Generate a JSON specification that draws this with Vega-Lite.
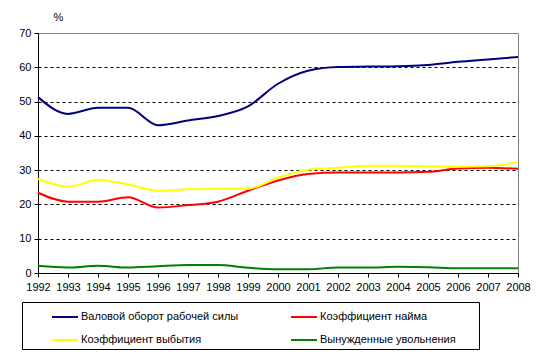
{
  "$schema": "https://vega.github.io/schema/vega-lite/v6.json",
  "width": 480,
  "height": 240,
  "autosize": "none",
  "padding": {"left": 38, "top": 33, "right": 19, "bottom": 86},
  "background": "white",
  "config": {
    "font": "Liberation Sans",
    "view": {"stroke": "#808080", "strokeWidth": 1}
  },
  "data": {
    "values": [
      {"year": 1992, "s": "Валовой оборот рабочей силы", "v": 51.3},
      {"year": 1993, "s": "Валовой оборот рабочей силы", "v": 46.4},
      {"year": 1994, "s": "Валовой оборот рабочей силы", "v": 48.2},
      {"year": 1995, "s": "Валовой оборот рабочей силы", "v": 48.2},
      {"year": 1996, "s": "Валовой оборот рабочей силы", "v": 43.1},
      {"year": 1997, "s": "Валовой оборот рабочей силы", "v": 44.5},
      {"year": 1998, "s": "Валовой оборот рабочей силы", "v": 45.8},
      {"year": 1999, "s": "Валовой оборот рабочей силы", "v": 48.6},
      {"year": 2000, "s": "Валовой оборот рабочей силы", "v": 55.2},
      {"year": 2001, "s": "Валовой оборот рабочей силы", "v": 59.0},
      {"year": 2002, "s": "Валовой оборот рабочей силы", "v": 60.1},
      {"year": 2003, "s": "Валовой оборот рабочей силы", "v": 60.2},
      {"year": 2004, "s": "Валовой оборот рабочей силы", "v": 60.3},
      {"year": 2005, "s": "Валовой оборот рабочей силы", "v": 60.7},
      {"year": 2006, "s": "Валовой оборот рабочей силы", "v": 61.6},
      {"year": 2007, "s": "Валовой оборот рабочей силы", "v": 62.3},
      {"year": 2008, "s": "Валовой оборот рабочей силы", "v": 63.0},
      {"year": 1992, "s": "Коэффициент найма", "v": 23.4},
      {"year": 1993, "s": "Коэффициент найма", "v": 20.8},
      {"year": 1994, "s": "Коэффициент найма", "v": 20.8},
      {"year": 1995, "s": "Коэффициент найма", "v": 22.1},
      {"year": 1996, "s": "Коэффициент найма", "v": 19.1},
      {"year": 1997, "s": "Коэффициент найма", "v": 19.8},
      {"year": 1998, "s": "Коэффициент найма", "v": 20.8},
      {"year": 1999, "s": "Коэффициент найма", "v": 24.0},
      {"year": 2000, "s": "Коэффициент найма", "v": 27.0},
      {"year": 2001, "s": "Коэффициент найма", "v": 28.9},
      {"year": 2002, "s": "Коэффициент найма", "v": 29.3},
      {"year": 2003, "s": "Коэффициент найма", "v": 29.3},
      {"year": 2004, "s": "Коэффициент найма", "v": 29.3},
      {"year": 2005, "s": "Коэффициент найма", "v": 29.5},
      {"year": 2006, "s": "Коэффициент найма", "v": 30.5},
      {"year": 2007, "s": "Коэффициент найма", "v": 30.7},
      {"year": 2008, "s": "Коэффициент найма", "v": 30.4},
      {"year": 1992, "s": "Коэффициент выбытия", "v": 27.4},
      {"year": 1993, "s": "Коэффициент выбытия", "v": 25.2},
      {"year": 1994, "s": "Коэффициент выбытия", "v": 27.1},
      {"year": 1995, "s": "Коэффициент выбытия", "v": 25.8},
      {"year": 1996, "s": "Коэффициент выбытия", "v": 24.0},
      {"year": 1997, "s": "Коэффициент выбытия", "v": 24.4},
      {"year": 1998, "s": "Коэффициент выбытия", "v": 24.6},
      {"year": 1999, "s": "Коэффициент выбытия", "v": 24.6},
      {"year": 2000, "s": "Коэффициент выбытия", "v": 27.8},
      {"year": 2001, "s": "Коэффициент выбытия", "v": 30.1},
      {"year": 2002, "s": "Коэффициент выбытия", "v": 30.7},
      {"year": 2003, "s": "Коэффициент выбытия", "v": 31.3},
      {"year": 2004, "s": "Коэффициент выбытия", "v": 31.3},
      {"year": 2005, "s": "Коэффициент выбытия", "v": 31.1},
      {"year": 2006, "s": "Коэффициент выбытия", "v": 31.0},
      {"year": 2007, "s": "Коэффициент выбытия", "v": 31.1},
      {"year": 2008, "s": "Коэффициент выбытия", "v": 32.4},
      {"year": 1992, "s": "Вынужденные увольнения", "v": 2.1},
      {"year": 1993, "s": "Вынужденные увольнения", "v": 1.6},
      {"year": 1994, "s": "Вынужденные увольнения", "v": 2.1},
      {"year": 1995, "s": "Вынужденные увольнения", "v": 1.6},
      {"year": 1996, "s": "Вынужденные увольнения", "v": 2.0},
      {"year": 1997, "s": "Вынужденные увольнения", "v": 2.3},
      {"year": 1998, "s": "Вынужденные увольнения", "v": 2.3},
      {"year": 1999, "s": "Вынужденные увольнения", "v": 1.5},
      {"year": 2000, "s": "Вынужденные увольнения", "v": 1.1},
      {"year": 2001, "s": "Вынужденные увольнения", "v": 1.1},
      {"year": 2002, "s": "Вынужденные увольнения", "v": 1.6},
      {"year": 2003, "s": "Вынужденные увольнения", "v": 1.6},
      {"year": 2004, "s": "Вынужденные увольнения", "v": 1.8},
      {"year": 2005, "s": "Вынужденные увольнения", "v": 1.7},
      {"year": 2006, "s": "Вынужденные увольнения", "v": 1.4},
      {"year": 2007, "s": "Вынужденные увольнения", "v": 1.4},
      {"year": 2008, "s": "Вынужденные увольнения", "v": 1.4}
    ]
  },
  "mark": {"type": "line", "strokeWidth": 2, "interpolate": "monotone"},
  "encoding": {
    "x": {
      "field": "year",
      "type": "quantitative",
      "scale": {"domain": [1992, 2008], "nice": false, "zero": false},
      "axis": {
        "title": null,
        "values": [1992, 1993, 1994, 1995, 1996, 1997, 1998, 1999, 2000, 2001, 2002, 2003, 2004, 2005, 2006, 2007, 2008],
        "format": "d",
        "grid": false,
        "domainColor": "black",
        "tickColor": "black",
        "tickSize": 4,
        "labelFontSize": 11,
        "labelColor": "black",
        "labelPadding": 4,
        "labelFlush": false,
        "labelOverlap": false
      }
    },
    "y": {
      "field": "v",
      "type": "quantitative",
      "scale": {"domain": [0, 70], "nice": false},
      "axis": {
        "title": "%",
        "titleAngle": 0,
        "titleX": 20,
        "titleY": -16,
        "titleAlign": "center",
        "titleBaseline": "middle",
        "titleFontSize": 11,
        "titleFontWeight": "normal",
        "titleColor": "black",
        "values": [0, 10, 20, 30, 40, 50, 60, 70],
        "grid": true,
        "gridColor": {"condition": {"test": "datum.value === 0 || datum.value === 70", "value": "transparent"}, "value": "black"},
        "gridDash": [3, 3],
        "gridWidth": 1,
        "domainColor": "black",
        "tickColor": "black",
        "tickSize": 4,
        "labelFontSize": 11,
        "labelColor": "black",
        "labelPadding": 3
      }
    },
    "color": {
      "field": "s",
      "type": "nominal",
      "scale": {
        "domain": ["Валовой оборот рабочей силы", "Коэффициент выбытия", "Коэффициент найма", "Вынужденные увольнения"],
        "range": ["#000080", "#FFFF00", "#FF0000", "#008000"]
      },
      "legend": {
        "orient": "none",
        "legendX": -16,
        "legendY": 269,
        "columns": 2,
        "gridAlign": "all",
        "title": "\u2800",
        "titleOrient": "left",
        "titlePadding": 20,
        "titleFontSize": 11,
        "padding": 4,
        "strokeColor": "black",
        "fillColor": "white",
        "symbolType": "M-1.3,0H1.3",
        "symbolSize": 400,
        "symbolStrokeWidth": 2,
        "symbolFillColor": "transparent",
        "labelFontSize": 11,
        "labelColor": "black",
        "labelOffset": 5,
        "labelLimit": 300,
        "labelExpr": "datum.label + '\u00a0\u2800\u2800'",
        "rowPadding": 7,
        "columnPadding": 29
      }
    }
  }
}
